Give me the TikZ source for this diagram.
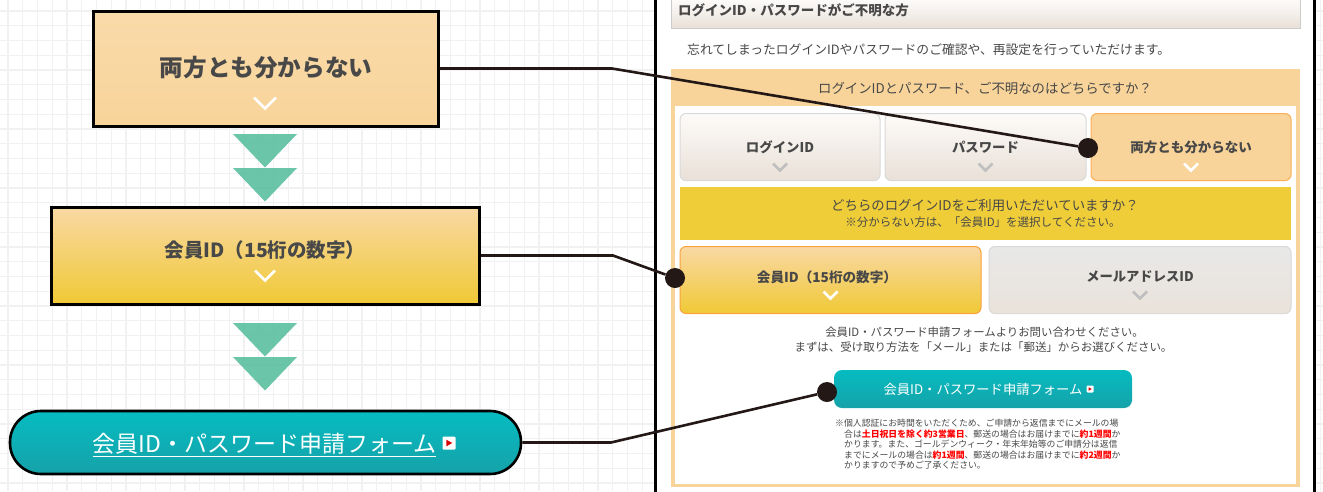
\documentclass[tikz,border=0pt]{standalone}
\usepackage{fontspec}
\setmainfont{Noto Sans CJK JP}
\definecolor{gridline}{HTML}{F1F1F1}
\definecolor{inktext}{HTML}{484848}
\definecolor{peach}{HTML}{F8D49A}
\definecolor{gold}{HTML}{EFCD38}
\definecolor{mint}{HTML}{5BBF9F}
\definecolor{wirecol}{HTML}{231815}
\definecolor{tealtop}{HTML}{05BCC1}
\definecolor{tealend}{HTML}{16A2A9}
\tikzset{
    bigbox/.style={draw=black, line width=3pt, inner sep=0},
    option/.style={draw=#1, line width=1pt, rounded corners=6pt, minimum height=67pt, inner sep=0},
    plainoption/.style={option=black!15, top color=white!97!brown, bottom color=brown!15!white!95!black},
    txt/.style={text=inktext, inner sep=0, font=\fontsize{#1}{#1}\selectfont},
    txtw/.style={txt=#1, anchor=west},
    btntxt/.style={text=inktext, inner sep=0, font=\bfseries\fontsize{#1}{#1}\selectfont},
    wire/.style={draw=wirecol, line width=2.6pt},
    joint/.style={circle, fill=wirecol, minimum size=20pt, inner sep=0},
    chev/.pic={\draw[line width=2.6pt, pic actions] (-#1,-#1*0.5) -- (0,#1*0.5) -- (#1,-#1*0.5);},
    playicon/.pic={
        \fill[white, rounded corners=1pt] (-#1,-#1) rectangle (#1,#1);
        \fill[red!85!black] (-#1*0.4,-#1*0.5) -- (#1*0.5,0) -- (-#1*0.4,#1*0.5) -- cycle;
    }
}
\begin{document}
\begin{tikzpicture}[x=1pt, y=-1pt]
    \path[use as bounding box, clip] (0,0) rectangle (1323,491);
    \fill[white] (0,0) rectangle (1323,491);

    % grid paper
    \foreach \k in {0,...,89} {
        \draw[gridline, line width=1.4pt] ({8+14.75*\k},0) -- ({8+14.75*\k},491);
    }
    \foreach \k in {0,...,32} {
        \draw[gridline, line width=1.4pt] (0,{11+14.75*\k}) -- (1323,{11+14.75*\k});
    }

    % green arrows
    \foreach \y in {134,168,323,357} {
        \fill[mint, fill opacity=0.9] (233,\y) -- (297,\y) -- (265,\y+33.5) -- cycle;
    }

    % left column
    \node[bigbox, minimum width=345pt, minimum height=115pt, top color=peach!85!white, bottom color=peach] (bothbox) at (265.5,68.5) {};
    \node[btntxt=23.6] (bothtext) at (266,68) {両方とも分からない};
    \pic[white, line width=3.4pt] at (265,103) {chev=11};

    \node[bigbox, minimum width=428pt, minimum height=97pt, top color=peach!90!white, bottom color=gold!95!orange] (memberbox) at (265.5,255.5) {};
    \node[btntxt=19.5] (membertext) at (265,250.5) {会員ID（15桁の数字）};
    \pic[white, line width=3.2pt] at (265,275.5) {chev=10};

    \node[draw=black, line width=2.6pt, rounded corners=31pt, minimum width=511pt, minimum height=63pt, inner sep=0, top color=tealtop, bottom color=tealend] (formbox) at (265.5,442.5) {};
    \node[txt=23, text=white] (formtext) at (264.5,445) {\underline{会員ID・パスワード申請フォーム}};
    \pic at (449,443) {playicon=6.5};

    % right panel
    \draw[black, line width=2.6pt, fill=white] (655.5,-5) rectangle (1314.5,500);

    \node[draw=black!20, line width=1pt, minimum width=629pt, minimum height=33pt, inner sep=0, top color=white, bottom color=brown!15!white!95!black] (headbar) at (985.5,12) {};
    \node[txtw=13.5, font=\bfseries\fontsize{13.5}{14}\selectfont] (headtext) at (678,10) {ログインID・パスワードがご不明な方};
    \node[txtw=12.8] (introtext) at (687,50) {忘れてしまったログインIDやパスワードのご確認や、再設定を行っていただけます。};

    \node[draw=peach, line width=3.6pt, fill=white, minimum width=625pt, minimum height=415pt, inner sep=0] (frame) at (985.5,278) {};
    \node[fill=peach, minimum width=629pt, minimum height=37pt, inner sep=0] (framehead) at (985.5,87.5) {};
    \node[txt=13.4] (asktext) at (985,88.5) {ログインIDとパスワード、ご不明なのはどちらですか？};

    \node[plainoption, minimum width=200pt] (idopt) at (780,147) {};
    \node[plainoption, minimum width=201pt] (passopt) at (985.5,147) {};
    \node[option=orange!45!peach, fill=peach, minimum width=200pt] (bothopt) at (1191,147) {};
    \node[btntxt=13.4] (idtext) at (780,147) {ログインID};
    \node[btntxt=13.4] (passtext) at (985.5,147) {パスワード};
    \node[btntxt=13.5] (bothlabel) at (1191,147) {両方とも分からない};
    \pic[black!25] at (780,167) {chev=7};
    \pic[black!25] at (985.5,167) {chev=7};
    \pic[white] at (1191,167) {chev=7};

    \node[fill=gold, minimum width=611pt, minimum height=53pt, inner sep=0] (whichband) at (985.5,213.5) {};
    \node[txt=13.4] (whichtext) at (985,205) {どちらのログインIDをご利用いただいていますか？};
    \node[txt=11.5] (whichnote) at (983,222) {※分からない方は、「会員ID」を選択してください。};

    \node[option=orange!60!peach, top color=peach!90!white, bottom color=gold!95!orange, minimum width=301pt] (memberopt) at (830.5,280) {};
    \node[plainoption, top color=black!9, bottom color=brown!13!white!95!black, minimum width=302pt] (mailopt) at (1140,280) {};
    \node[btntxt=13.6] (memberlabel) at (827,277) {会員ID（15桁の数字）};
    \node[btntxt=13.3] (maillabel) at (1140,277) {メールアドレスID};
    \pic[white] at (830.5,295) {chev=7};
    \pic[black!25] at (1140,295) {chev=7};

    \node[txt=11.4] (formask) at (984.5,332) {会員ID・パスワード申請フォームよりお問い合わせください。};
    \node[txt=11.45] (formchoose) at (983.5,347.5) {まずは、受け取り方法を「メール」または「郵送」からお選びください。};

    \node[rounded corners=8pt, minimum width=298pt, minimum height=38pt, inner sep=0, top color=tealtop, bottom color=tealend] (formbtn) at (983,389) {};
    \node[txt=13.3, text=white] (formbtntext) at (983,389) {会員ID・パスワード申請フォーム};
    \pic at (1090,389) {playicon=3.5};

    % note under the button
    \node[txtw=8.85] (note1) at (835,423) {※個人認証にお時間をいただくため、ご申請から返信までにメールの場};
    \node[txtw=8.85] (note2) at (844,434) {合は\textcolor{red}{\bfseries 土日祝日を除く約3営業日}、郵送の場合はお届けまでに\textcolor{red}{\bfseries 約1週間}か};
    \node[txtw=8.85] (note3) at (844,444.5) {かります。また、ゴールデンウィーク・年末年始等のご申請分は返信};
    \node[txtw=8.85] (note4) at (844,455) {までにメールの場合は\textcolor{red}{\bfseries 約1週間}、郵送の場合はお届けまでに\textcolor{red}{\bfseries 約2週間}か};
    \node[txtw=8.85] (note5) at (844,465.5) {かりますので予めご了承ください。};

    % connectors
    \node[joint] (bothdot) at (1088,148) {};
    \node[joint] (memberdot) at (675,278) {};
    \node[joint] (formdot) at (827,392) {};
    \coordinate (bothbend) at (612,68.5);
    \coordinate (memberbend) at (613,255.5);
    \coordinate (formbend) at (611,442.5);
    \draw[wire] (bothbox.east) -- (bothbend) -- (bothdot);
    \draw[wire] (memberbox.east) -- (memberbend) -- (memberdot);
    \draw[wire] (formbox.east) -- (formbend) -- (formdot);
\end{tikzpicture}
\end{document}
